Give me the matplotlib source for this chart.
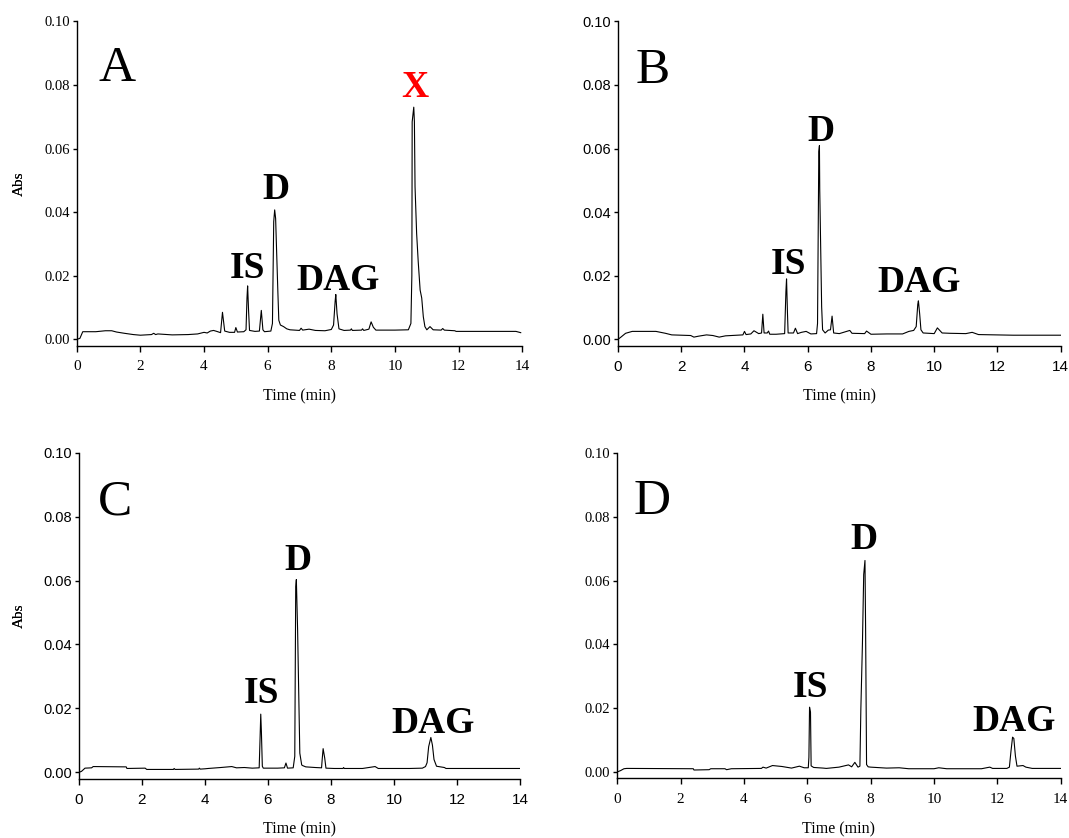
import matplotlib
matplotlib.use("Agg")
import matplotlib.pyplot as plt
from matplotlib.ticker import FormatStrFormatter, FixedLocator

# ---------------- data ----------------
t_A = [0, 0.1, 0.19, 0.6, 0.9, 1.1, 1.25, 1.5, 1.78, 2.0, 2.35, 2.42, 2.48, 2.55, 3.0, 3.5, 3.8,
       4.0, 4.1, 4.2, 4.3, 4.4, 4.52, 4.58, 4.65, 4.8, 4.96, 5.0, 5.05, 5.25, 5.32, 5.35, 5.37,
       5.40, 5.43, 5.6, 5.74, 5.80, 5.85, 5.9, 6.1, 6.15, 6.19, 6.22, 6.25, 6.28, 6.32, 6.35,
       6.4, 6.5, 6.6, 6.7, 7.0, 7.05, 7.1, 7.3, 7.5, 7.8, 8.0, 8.07, 8.12, 8.14, 8.18, 8.24,
       8.4, 8.6, 8.63, 8.66, 8.95, 8.98, 9.02, 9.18, 9.25, 9.32, 9.4, 10.0, 10.42, 10.50, 10.53,
       10.54, 10.59, 10.61, 10.63, 10.68, 10.73, 10.79, 10.84, 10.89, 10.94, 11.0, 11.1, 11.2,
       11.45, 11.5, 11.55, 11.88, 11.92, 13.8, 13.95]
abs_A = [0.0, 0.0003, 0.0024, 0.0024, 0.0027, 0.0027, 0.0023, 0.0019, 0.0015, 0.0013, 0.0015,
         0.0019, 0.0015, 0.0017, 0.0014, 0.0015, 0.0017, 0.0022, 0.0020, 0.0026, 0.0028, 0.0025,
         0.0021, 0.0085, 0.0026, 0.0022, 0.0022, 0.0037, 0.0023, 0.0024, 0.0030, 0.0130, 0.0168,
         0.0090, 0.0028, 0.0025, 0.0026, 0.0091, 0.0030, 0.0024, 0.0026, 0.0050, 0.0370, 0.0407,
         0.0380, 0.0280, 0.0150, 0.0060, 0.0045, 0.0040, 0.0033, 0.0030, 0.0028, 0.0035, 0.0029,
         0.0032, 0.0028, 0.0027, 0.0031, 0.0045, 0.0120, 0.0141, 0.0080, 0.0033, 0.0028, 0.0029,
         0.0033, 0.0028, 0.0029, 0.0033, 0.0028, 0.0032, 0.0055, 0.0038, 0.0029, 0.0029, 0.0030,
         0.0050, 0.0200, 0.0684, 0.0730, 0.0684, 0.0480, 0.0333, 0.0244, 0.0155, 0.0130, 0.0071,
         0.0040, 0.0030, 0.0040, 0.0030, 0.0029, 0.0034, 0.0029, 0.0027, 0.0025, 0.0025, 0.0021]

t_B = [0, 0.08, 0.24, 0.45, 1.2, 1.5, 1.7, 2.0, 2.3, 2.4, 2.55, 2.8, 3.0, 3.2, 3.4, 3.95, 4.0,
       4.05, 4.2, 4.3, 4.45, 4.54, 4.58, 4.62, 4.72, 4.76, 4.8, 5.0, 5.27, 5.31, 5.33, 5.36, 5.38,
       5.55, 5.61, 5.68, 5.8, 5.95, 6.1, 6.28, 6.31, 6.35, 6.37, 6.38, 6.44, 6.47, 6.55, 6.65,
       6.72, 6.77, 6.82, 7.0, 7.33, 7.4, 7.8, 7.86, 8.0, 8.5, 9.0, 9.2, 9.35, 9.43, 9.48, 9.50,
       9.54, 9.58, 9.65, 10.0, 10.1, 10.25, 10.5, 11.0, 11.2, 11.4, 12.5, 14.0]
abs_B = [0.0, 0.0006, 0.0019, 0.0025, 0.0025, 0.0019, 0.0014, 0.0013, 0.0012, 0.0007, 0.0010,
         0.0014, 0.0012, 0.0007, 0.0011, 0.0014, 0.0025, 0.0015, 0.0017, 0.0027, 0.0018, 0.0020,
         0.0079, 0.0020, 0.0020, 0.0026, 0.0016, 0.0016, 0.0018, 0.0150, 0.0190, 0.0080, 0.0020,
         0.0020, 0.0035, 0.0018, 0.0022, 0.0025, 0.0017, 0.0018, 0.0050, 0.0590, 0.0609, 0.0470,
         0.0103, 0.0030, 0.0020, 0.0029, 0.0030, 0.0073, 0.0020, 0.0018, 0.0028, 0.0019, 0.0018,
         0.0026, 0.0016, 0.0017, 0.0017, 0.0025, 0.0028, 0.0040, 0.0110, 0.0121, 0.0080, 0.0030,
         0.0020, 0.0018, 0.0036, 0.0020, 0.0019, 0.0018, 0.0022, 0.0015, 0.0013, 0.0013]

t_C = [0, 0.08, 0.19, 0.4, 0.45, 1.5, 1.52, 2.1, 2.15, 3.0, 3.02, 3.05, 3.8, 3.82, 3.85, 4.0,
       4.1, 4.5, 4.85, 5.0, 5.25, 5.5, 5.72, 5.75, 5.77, 5.79, 5.82, 5.85, 6.3, 6.52, 6.57, 6.62,
       6.8, 6.85, 6.88, 6.90, 6.94, 6.98, 7.01, 7.07, 7.1, 7.2, 7.5, 7.7, 7.72, 7.75, 7.8, 7.84,
       8.1, 8.38, 8.4, 8.42, 9.0, 9.4, 9.5, 10.5, 10.9, 11.0, 11.05, 11.1, 11.17, 11.22, 11.27,
       11.35, 11.6, 11.65, 14.0]
abs_C = [0.0, 0.0003, 0.0013, 0.0014, 0.0018, 0.0017, 0.0012, 0.0013, 0.0009, 0.0009, 0.0012,
         0.0009, 0.0010, 0.0013, 0.0010, 0.0011, 0.0012, 0.0015, 0.0018, 0.0014, 0.0015, 0.0013,
         0.0014, 0.0113, 0.0182, 0.0128, 0.0019, 0.0013, 0.0013, 0.0014, 0.0029, 0.0013, 0.0014,
         0.0050, 0.0580, 0.0603, 0.0445, 0.0223, 0.0060, 0.0023, 0.0021, 0.0017, 0.0015, 0.0014,
         0.0040, 0.0074, 0.0045, 0.0013, 0.0012, 0.0012, 0.0015, 0.0012, 0.0012, 0.0018, 0.0012,
         0.0012, 0.0013, 0.0018, 0.0030, 0.0080, 0.0109, 0.0085, 0.0040, 0.0019, 0.0015, 0.0012,
         0.0012]

t_D = [0, 0.1, 0.21, 0.3, 2.4, 2.42, 2.9, 2.95, 3.4, 3.45, 3.6, 4.55, 4.6, 4.7, 4.9, 5.2, 5.5,
       5.75, 5.9, 6.03, 6.05, 6.07, 6.10, 6.12, 6.2, 6.5, 6.6, 7.0, 7.3, 7.4, 7.5, 7.6, 7.66,
       7.69, 7.74, 7.78, 7.82, 7.84, 7.87, 7.92, 8.0, 8.5, 8.9, 9.2, 10.0, 10.15, 10.4, 11.5,
       11.76, 11.85, 12.3, 12.38, 12.43, 12.48, 12.52, 12.57, 12.62, 12.81, 12.9, 13.1, 14.0]
abs_D = [0.0, 0.0004, 0.0010, 0.0011, 0.0010, 0.0006, 0.0007, 0.0010, 0.0010, 0.0007, 0.0010,
         0.0011, 0.0015, 0.0012, 0.0020, 0.0017, 0.0012, 0.0018, 0.0013, 0.0013, 0.0046, 0.0203,
         0.0187, 0.0019, 0.0014, 0.0012, 0.0011, 0.0015, 0.0022, 0.0016, 0.0030, 0.0015, 0.0018,
         0.0197, 0.0403, 0.0619, 0.0663, 0.0450, 0.0023, 0.0016, 0.0015, 0.0012, 0.0013, 0.0010,
         0.0010, 0.0013, 0.0010, 0.0010, 0.0015, 0.0011, 0.0011, 0.0015, 0.0065, 0.0109, 0.0105,
         0.0050, 0.0018, 0.0020, 0.0015, 0.0011, 0.0011]

x_ticks = [0, 2, 4, 6, 8, 10, 12, 14]
y_ticks = [0.00, 0.02, 0.04, 0.06, 0.08, 0.10]
x_label = "Time (min)"
y_label = "Abs"

panel_letters = ["A", "B", "C", "D"]
letter_pos = [(0.68, 0.0812), (0.57, 0.0805), (0.60, 0.0806), (0.50, 0.0808)]

peak_names_A = ["IS", "D", "DAG", "X"]
peak_pos_A = [(5.37, 0.0192), (6.25, 0.0440), (8.22, 0.0155), (10.63, 0.0761)]
peak_names_B = ["IS", "D", "DAG"]
peak_pos_B = [(5.38, 0.0205), (6.43, 0.0625), (9.53, 0.0150)]
peak_names_C = ["IS", "D", "DAG"]
peak_pos_C = [(5.80, 0.0216), (6.95, 0.0634), (11.23, 0.0123)]
peak_names_D = ["IS", "D", "DAG"]
peak_pos_D = [(6.10, 0.0234), (7.79, 0.0698), (12.54, 0.0129)]

# ---------------- figure ----------------
W, H = 1069, 838
fig = plt.figure(figsize=(W / 100, H / 100), dpi=100)

SERIF = ["Liberation Serif", "DejaVu Serif"]
SANS = ["Liberation Sans", "DejaVu Sans"]

# axes boxes in pixels: (x at 0, x at 14, y at 0.10, x-axis line)
boxes = [(76.7, 522.3, 21.3, 345.7),
         (618.0, 1060.7, 21.3, 345.7),
         (79.0, 520.0, 452.7, 778.7),
         (617.3, 1060.7, 453.0, 778.3)]
tick_fonts = [SERIF, SANS, SANS, SERIF]
traces = [(t_A, abs_A), (t_B, abs_B), (t_C, abs_C), (t_D, abs_D)]
peaks = [(peak_names_A, peak_pos_A), (peak_names_B, peak_pos_B),
         (peak_names_C, peak_pos_C), (peak_names_D, peak_pos_D)]

for i in range(4):
    x0, x1, yt, yb = boxes[i]
    ax = fig.add_axes([x0 / W, 1 - yb / H, (x1 - x0) / W, (yb - yt) / H])
    t, a = traces[i]
    ax.plot(t, a, color="black", lw=0.8)
    ax.set_xlim(0, 14)
    ax.set_ylim(-0.002, 0.10)
    for s in ["top", "right"]:
        ax.spines[s].set_visible(False)
    for s in ["left", "bottom"]:
        ax.spines[s].set_linewidth(1.0)
    ax.xaxis.set_major_locator(FixedLocator(x_ticks))
    ax.yaxis.set_major_locator(FixedLocator(y_ticks))
    ax.yaxis.set_major_formatter(FormatStrFormatter("%.2f"))
    ax.tick_params(axis="x", direction="out", length=4.5, width=1.0, pad=6, labelsize=11)
    ax.tick_params(axis="y", direction="out", length=3, width=1.0, pad=2, labelsize=10.5)
    for lab in ax.get_xticklabels() + ax.get_yticklabels():
        lab.set_fontfamily(tick_fonts[i])
    ax.set_xlabel(x_label, fontsize=11.5, family=SERIF)
    ax.set_ylabel(y_label, fontsize=11, family=SERIF)
    ax.xaxis.label.set_va("top")
    ax.xaxis.set_label_coords(0.5, -43 / (yb - yt), transform=ax.transAxes)
    ax.yaxis.set_label_coords(-(x0 - 26) / (x1 - x0), 0.5, transform=ax.transAxes)

    lx, ly = letter_pos[i]
    ax.text(lx, ly, panel_letters[i], fontsize=37, family=SERIF, ha="left", va="baseline")
    names, pos = peaks[i]
    for n, (px, py) in zip(names, pos):
        col = "red" if n == "X" else "black"
        ax.text(px, py, n, fontsize=27, family=SERIF, fontweight="bold",
                ha="center", va="baseline", color=col)

fig.savefig("out.png", dpi=100)
